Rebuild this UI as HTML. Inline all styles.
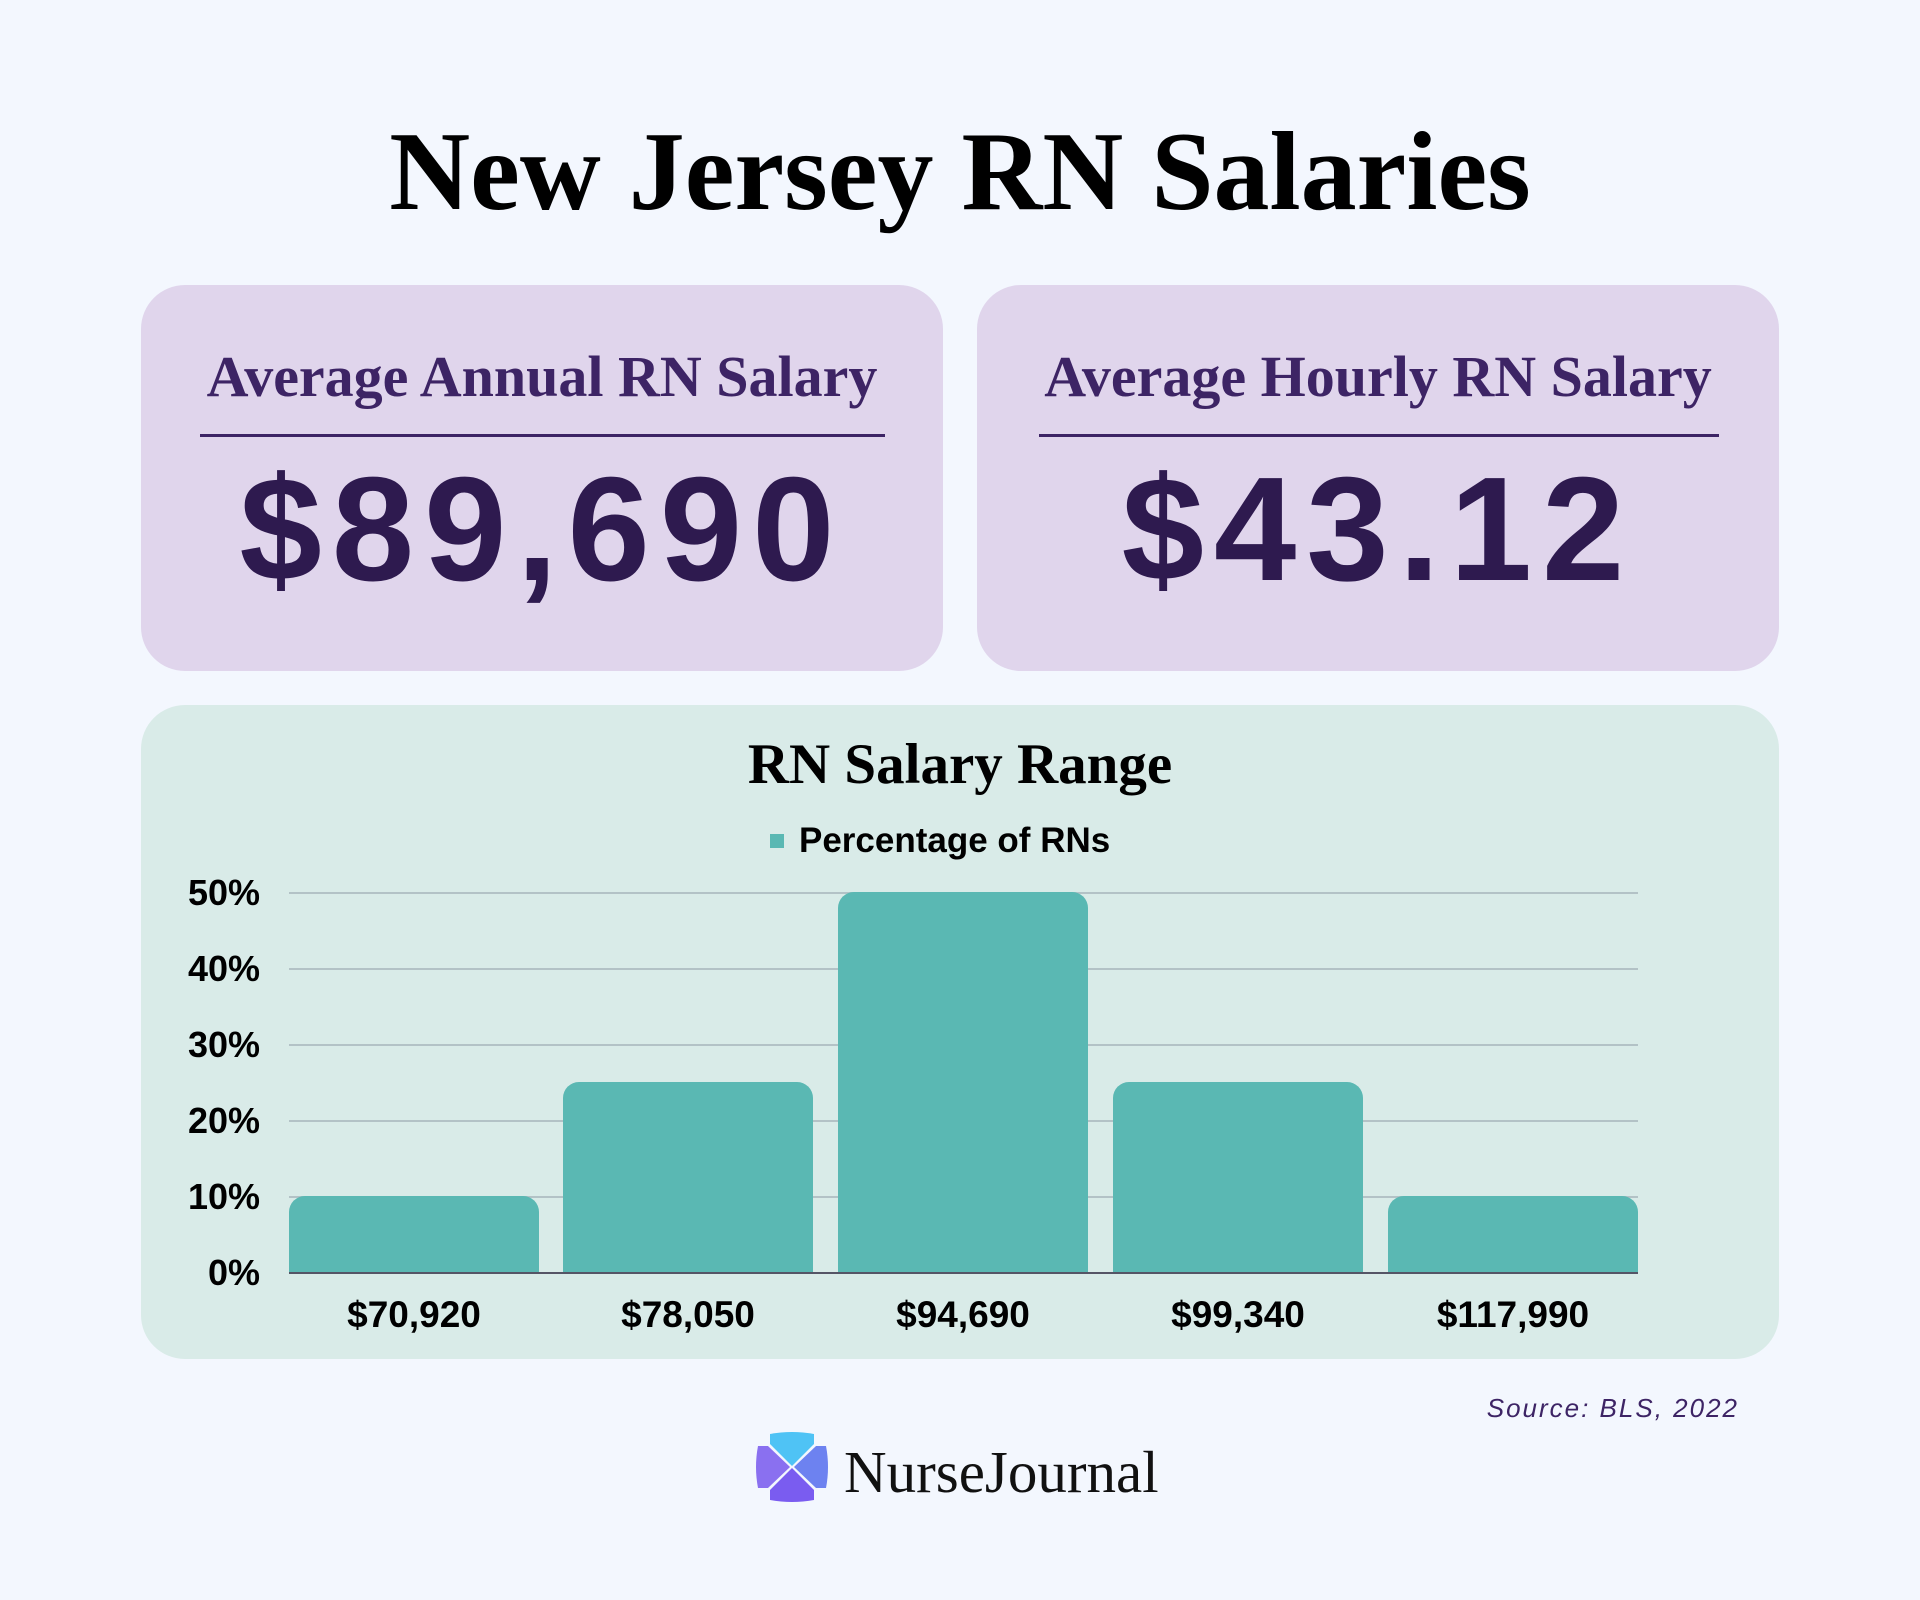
<!DOCTYPE html>
<html><head><meta charset="utf-8"><style>
body{margin:0;width:1920px;height:1600px;background:#f3f7fe;position:relative;overflow:hidden;font-family:"Liberation Sans",sans-serif}
.a{position:absolute}
.card{position:absolute;background:#e0d5ec;border-radius:44px}
.h{position:absolute;left:0;right:0;text-align:center;font-family:"Liberation Serif",serif;font-weight:bold;color:#3d2465;font-size:58px}
.n{position:absolute;left:0;right:0;text-align:center;font-weight:bold;color:#2e1a4f;font-size:148px;letter-spacing:10px}
.yl{position:absolute;right:1660px;font-weight:bold;font-size:36px;color:#000;line-height:40px}
.g{position:absolute;left:289px;width:1349px;height:2px;background:#b3c2c6}
.bar{position:absolute;background:#5ab8b3;border-radius:16px 16px 0 0;width:250px}
.xl{position:absolute;width:300px;text-align:center;font-weight:bold;font-size:37px;top:1294px}
</style></head><body>
<div class="a" style="left:0;right:0;top:108px;text-align:center;font-family:'Liberation Serif',serif;font-weight:bold;font-size:112px;color:#000">New Jersey RN Salaries</div>
<div class="card" style="left:141px;top:285px;width:802px;height:386px">
 <div class="h" style="top:58px">Average Annual RN Salary</div>
 <div class="a" style="left:59px;width:685px;top:149px;height:3px;background:#3d2465"></div>
 <div class="n" style="top:160px">$89,690</div>
</div>
<div class="card" style="left:977px;top:285px;width:802px;height:386px">
 <div class="h" style="top:58px">Average Hourly RN Salary</div>
 <div class="a" style="left:62px;width:680px;top:149px;height:3px;background:#3d2465"></div>
 <div class="n" style="top:160px">$43.12</div>
</div>
<div class="card" style="left:141px;top:705px;width:1638px;height:654px;background:#d9ebe8"></div>
<div class="a" style="left:0;right:0;top:732px;text-align:center;font-family:'Liberation Serif',serif;font-weight:bold;font-size:57px;color:#000">RN Salary Range</div>
<div class="a" style="left:770px;top:834px;width:14px;height:14px;background:#5ab8b3"></div>
<div class="a" style="left:799px;top:821px;font-weight:bold;font-size:35px">Percentage of RNs</div>
<div class="g" style="top:892px"></div><div class="g" style="top:968px"></div><div class="g" style="top:1044px"></div><div class="g" style="top:1120px"></div><div class="g" style="top:1196px"></div>
<div class="yl" style="top:873px">50%</div><div class="yl" style="top:949px">40%</div><div class="yl" style="top:1025px">30%</div><div class="yl" style="top:1101px">20%</div><div class="yl" style="top:1177px">10%</div><div class="yl" style="top:1253px">0%</div>
<div class="bar" style="left:289px;top:1196px;height:77px"></div>
<div class="bar" style="left:563px;top:1082px;height:191px"></div>
<div class="bar" style="left:838px;top:892px;height:381px"></div>
<div class="bar" style="left:1113px;top:1082px;height:191px"></div>
<div class="bar" style="left:1388px;top:1196px;height:77px"></div>
<div class="a" style="left:289px;top:1272px;width:1349px;height:2px;background:#556"></div>
<div class="xl" style="left:264px">$70,920</div><div class="xl" style="left:538px">$78,050</div><div class="xl" style="left:813px">$94,690</div><div class="xl" style="left:1088px">$99,340</div><div class="xl" style="left:1363px">$117,990</div>
<div class="a" style="right:181px;top:1393px;font-style:italic;font-size:26px;letter-spacing:2px;color:#3d2465">Source: BLS, 2022</div>
<svg class="a" style="left:756px;top:1432px" width="72" height="70" viewBox="0 0 72 70">
<path d="M14 2 Q36 -2 58 2 L58 12 Q36 34 36 34 Q14 12 14 12Z" fill="#4fc3f5"/>
<path d="M2 14 Q-2 35 2 56 L12 56 Q34 35 34 35 Q12 14 12 14Z" fill="#8a70f0"/>
<path d="M70 14 Q74 35 70 56 L60 56 Q38 35 38 35 Q60 14 60 14Z" fill="#6d82f0"/>
<path d="M14 68 Q36 72 58 68 L58 58 Q36 36 36 36 Q14 58 14 58Z" fill="#7a5cf0"/>
</svg>
<div class="a" style="left:844px;top:1438px;font-family:'Liberation Serif',serif;font-size:59px;color:#111">NurseJournal</div>
</body></html>
